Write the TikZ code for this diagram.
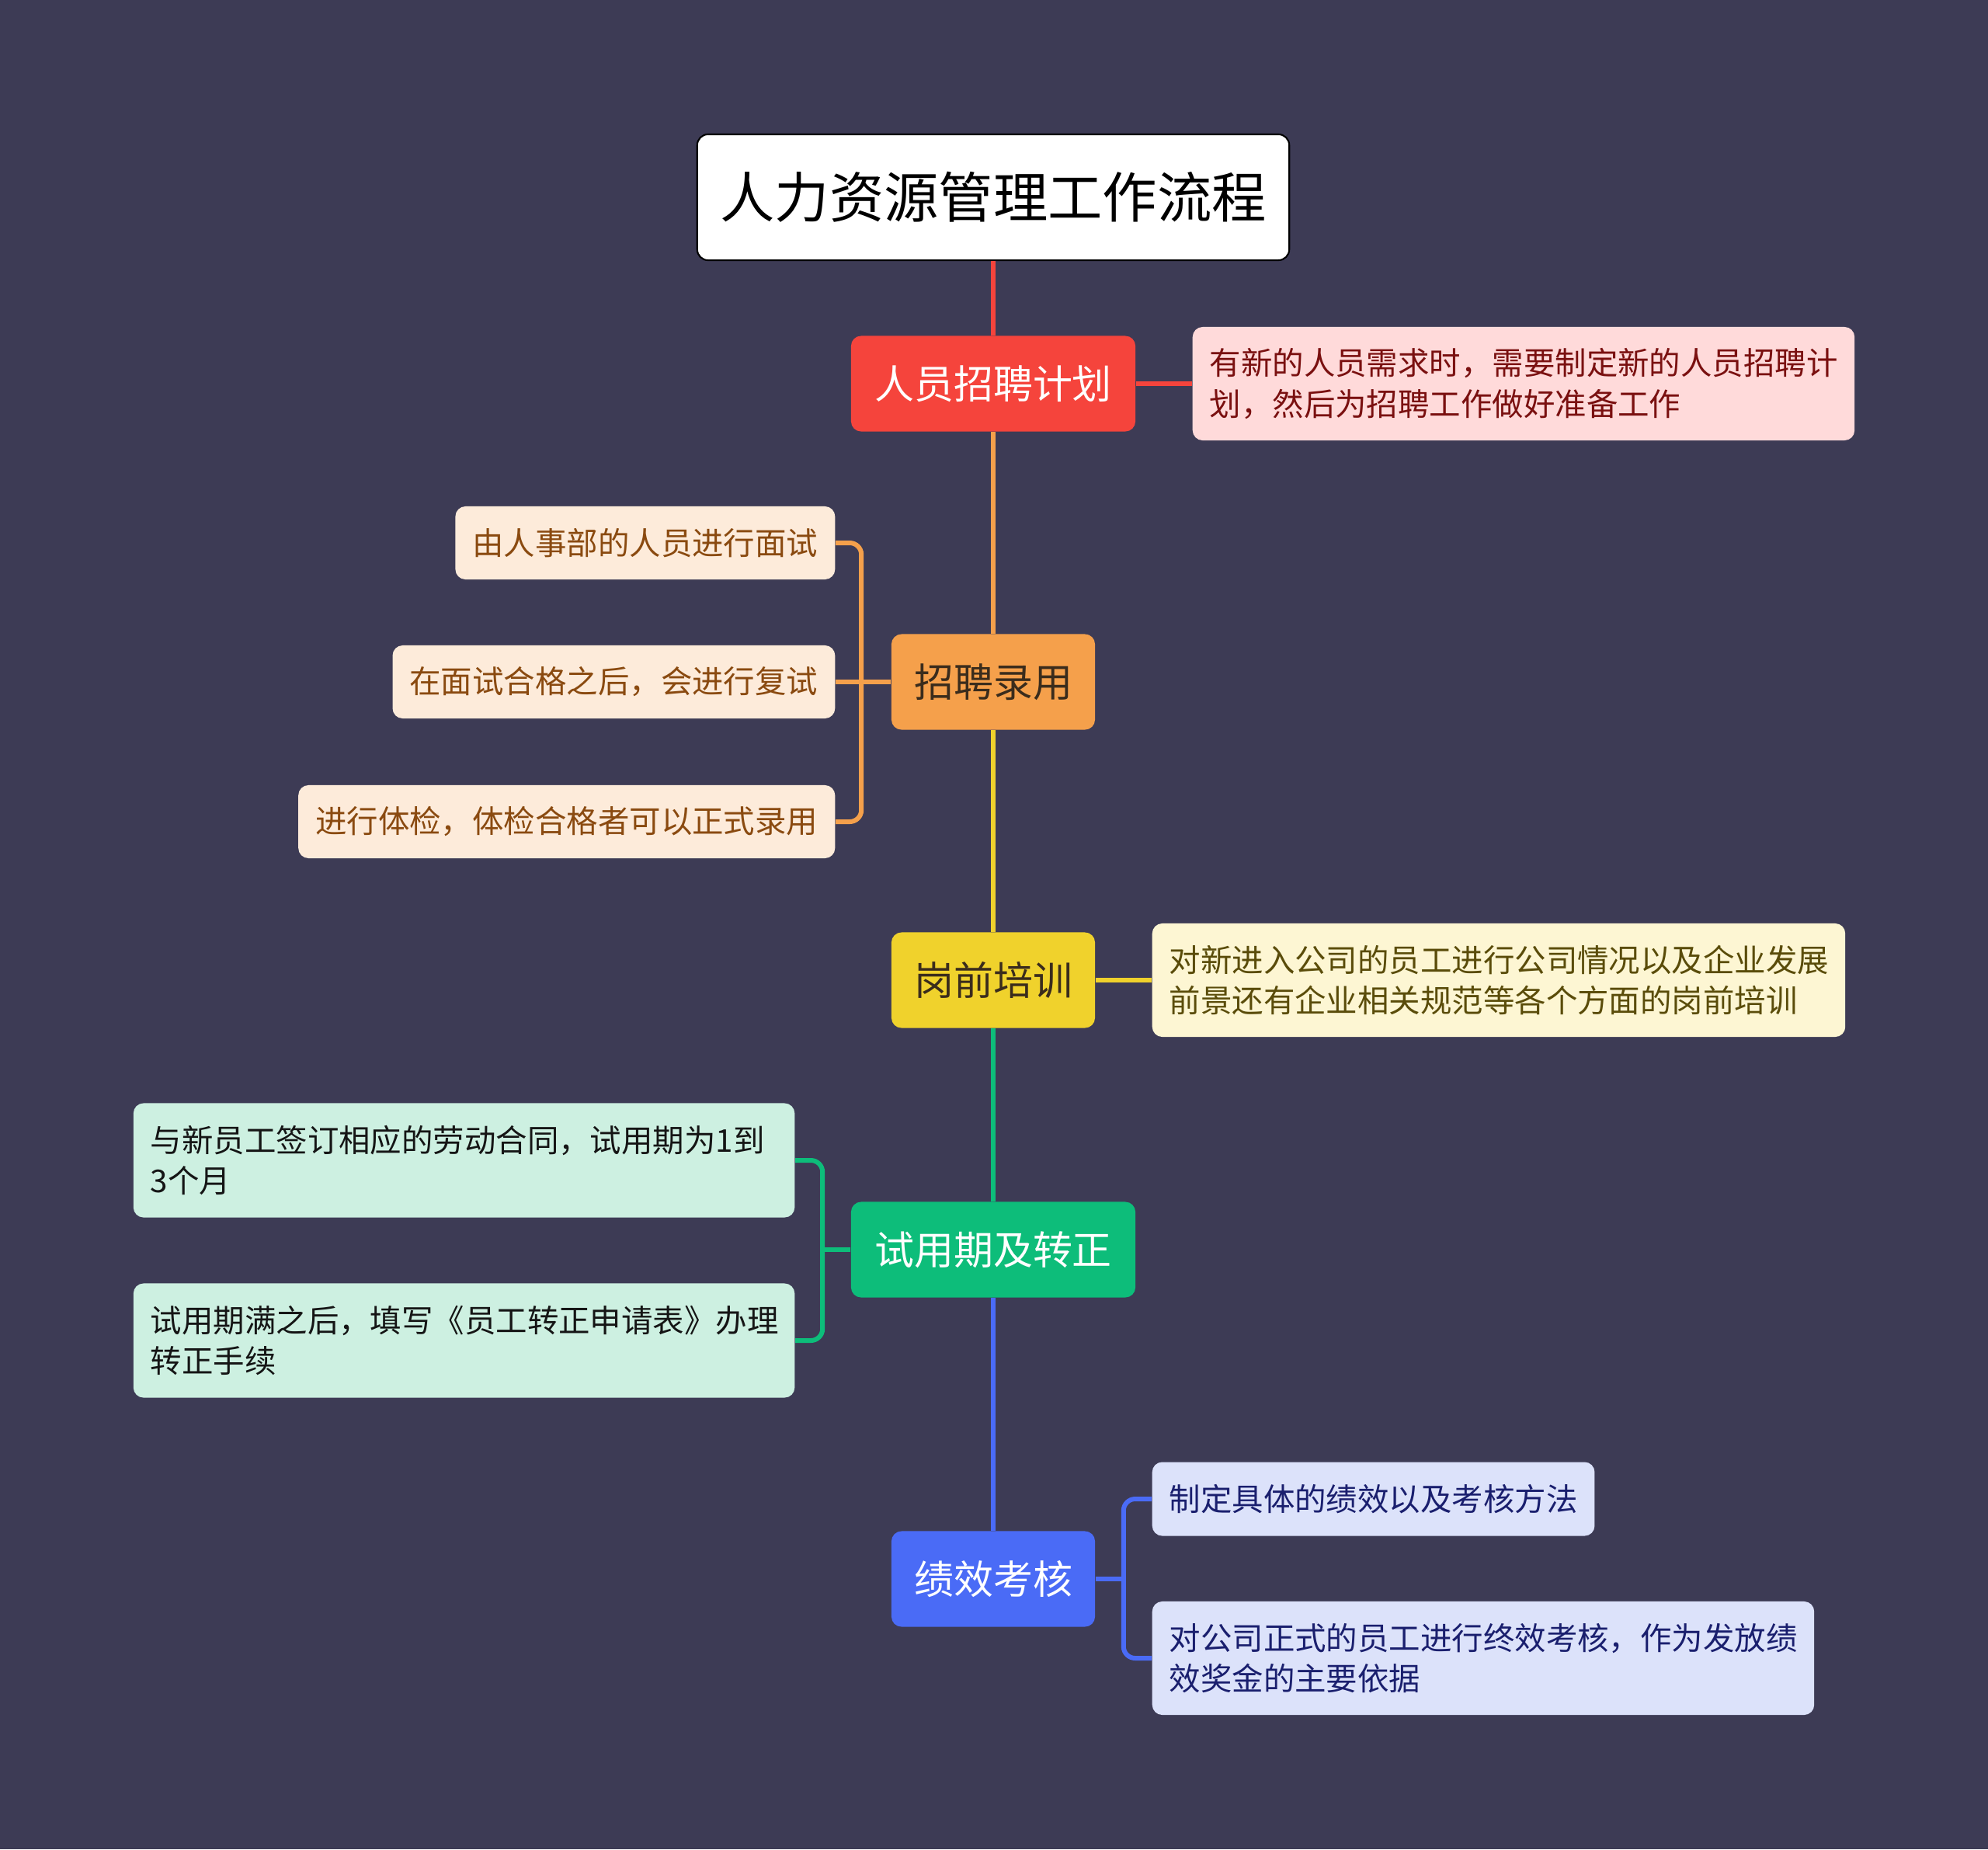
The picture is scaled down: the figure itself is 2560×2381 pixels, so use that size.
\documentclass[tikz,border=0pt]{standalone}
\usepackage{fontspec}
\setmainfont{Noto Sans CJK SC}
\usetikzlibrary{calc}

\definecolor{bg}{HTML}{3D3B55}
\definecolor{cred}{HTML}{F5443C}
\definecolor{corange}{HTML}{F5A04B}
\definecolor{cyellow}{HTML}{F0D22C}
\definecolor{cgreen}{HTML}{0DBD7A}
\definecolor{cblue}{HTML}{4A6BF6}
\definecolor{nred}{HTML}{FFDADA}
\definecolor{norange}{HTML}{FDEBDA}
\definecolor{nyellow}{HTML}{FDF6D3}
\definecolor{ngreen}{HTML}{CDF0E1}
\definecolor{nblue}{HTML}{DCE2FA}
\definecolor{tred}{HTML}{7A1010}
\definecolor{torange}{HTML}{8A4A10}
\definecolor{tyellow}{HTML}{5A4C0A}
\definecolor{tgreen}{HTML}{151515}
\definecolor{tblue}{HTML}{1A1F6E}
\definecolor{tdark}{HTML}{3A2C1C}

\begin{document}
\begin{tikzpicture}[x=0.01cm, y=-0.01cm,
  topic/.style={draw=black, line width=0.6pt, fill=white, rounded corners=0.14cm,
    minimum width=7.62cm, minimum height=1.62cm, inner sep=0pt,
    font=\fontsize{20pt}{24pt}\selectfont},
  branch/.style={fill=#1, rounded corners=0.13cm, minimum height=1.23cm, inner sep=0pt,
    font=\fontsize{14.5pt}{18pt}\selectfont},
  note/.style={fill=#1, rounded corners=0.13cm, inner xsep=0.22cm, inner ysep=0pt,
    align=left, font=\fontsize{11.5pt}{14.8pt}\selectfont},
  link/.style={line width=0.06cm, draw=#1},
  fork/.style={line width=0.06cm, draw=#1, rounded corners=0.15cm}]

  % Hintergrund
  \fill[bg] (0,0) rectangle (2560,2381);

  % Hauptthema und Aeste
  \node[topic] (root) at (1279,254) {人力资源管理工作流程};
  \node[branch=cred, minimum width=3.66cm, text=white] (plan) at (1279,494) {人员招聘计划};
  \node[branch=corange, minimum width=2.62cm, text=tdark] (hire) at (1279,878) {招聘录用};
  \node[branch=cyellow, minimum width=2.62cm, text=tdark] (train) at (1279,1262) {岗前培训};
  \node[branch=cgreen, minimum width=3.66cm, text=white] (trial) at (1279,1609) {试用期及转正};
  \node[branch=cblue, minimum width=2.62cm, text=white] (perf) at (1279,2033) {绩效考核};

  % Notizen
  \node[note=nred, text=tred, text width=8.08cm, minimum height=1.46cm, anchor=west]
    (planNote) at (1535,494) {有新的人员需求时，需要制定新的人员招聘计\\划，然后为招聘工作做好准备工作};
  \node[note=norange, text=torange, minimum height=0.94cm, anchor=east]
    (hireA) at (1076,699) {由人事部的人员进行面试};
  \node[note=norange, text=torange, minimum height=0.94cm, anchor=east]
    (hireB) at (1076,878) {在面试合格之后，会进行复试};
  \node[note=norange, text=torange, minimum height=0.94cm, anchor=east]
    (hireC) at (1076,1058) {进行体检，体检合格者可以正式录用};
  \node[note=nyellow, text=tyellow, text width=8.48cm, minimum height=1.46cm, anchor=west]
    (trainNote) at (1483,1262) {对新进入公司的员工进行公司情况以及企业发展\\前景还有企业相关规范等各个方面的岗前培训};
  \node[note=ngreen, text=tgreen, text width=8.07cm, minimum height=1.47cm, anchor=east]
    (trialA) at (1024,1494) {与新员工签订相应的劳动合同，试用期为1到\\3个月};
  \node[note=ngreen, text=tgreen, text width=8.07cm, minimum height=1.47cm, anchor=east]
    (trialB) at (1024,1726) {试用期满之后，填写《员工转正申请表》办理\\转正手续};
  \node[note=nblue, text=tblue, minimum height=0.95cm, anchor=west]
    (perfA) at (1483,1930) {制定具体的绩效以及考核方法};
  \node[note=nblue, text=tblue, text width=8.08cm, minimum height=1.46cm, anchor=west]
    (perfB) at (1483,2135) {对公司正式的员工进行终效考核，作为发放绩\\效奖金的主要依据};

  % Verbindungen
  \draw[link=cred] (root.south) -- (plan.north);
  \draw[link=cred] (plan.east) -- (planNote.west);

  \draw[link=corange] (plan.south) -- (hire.north);
  \coordinate (hireJ) at ($(hire.west)+(-38,0)$);
  \draw[link=corange] (hire.west) -- (hireJ) (hireB.east) -- (hireJ);
  \draw[fork=corange] (hireA.east) -| (hireJ) |- (hireC.east);

  \draw[link=cyellow] (hire.south) -- (train.north);
  \draw[link=cyellow] (train.east) -- (trainNote.west);

  \draw[link=cgreen] (train.south) -- (trial.north);
  \coordinate (trialJ) at ($(trial.west)+(-36,0)$);
  \draw[link=cgreen] (trial.west) -- (trialJ);
  \draw[fork=cgreen] (trialA.east) -| (trialJ) |- (trialB.east);

  \draw[link=cblue] (trial.south) -- (perf.north);
  \coordinate (perfJ) at ($(perf.east)+(36,0)$);
  \draw[link=cblue] (perf.east) -- (perfJ);
  \draw[fork=cblue] (perfA.west) -| (perfJ) |- (perfB.west);
\end{tikzpicture}
\end{document}
